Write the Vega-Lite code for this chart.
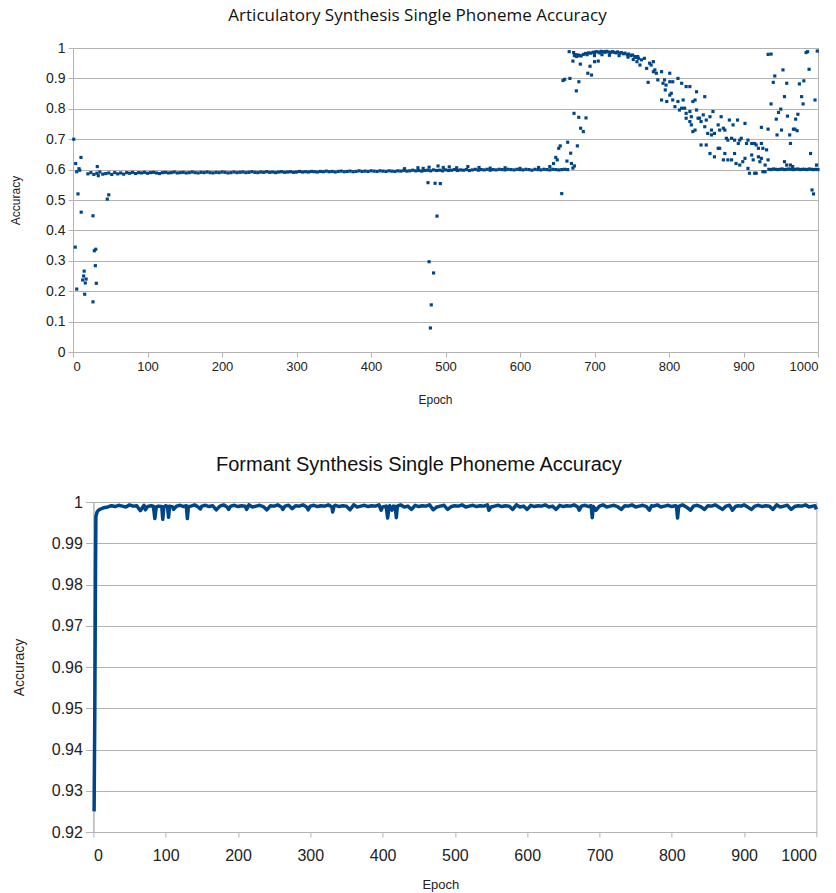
{
  "$schema": "https://vega.github.io/schema/vega-lite/v6.json",
  "padding": {"left": 9, "top": 6, "right": 0, "bottom": 0},
  "background": "white",
  "config": {
    "font": "Liberation Sans",
    "view": {"stroke": "#b3b3b3", "strokeWidth": 1},
    "axis": {"gridColor": "#b3b3b3", "domainColor": "#b3b3b3", "tickColor": "#b3b3b3", "labelColor": "#222222", "titleColor": "#222222", "titleFontWeight": "normal", "labelFont": "Liberation Sans", "titleFont": "Liberation Sans"}
  },
  "datasets": {
    "art": [
      {"e":1,"a":0.70},{"e":3,"a":0.345},{"e":3.6,"a":0.62},{"e":5,"a":0.207},{"e":5,"a":0.593},{"e":6.7,"a":0.52},{"e":8,"a":0.603},{"e":9,"a":0.598},{"e":10.7,"a":0.64},{"e":11,"a":0.46},{"e":13,"a":0.237},{"e":14.3,"a":0.25},{"e":15,"a":0.266},{"e":15.7,"a":0.19},{"e":16.5,"a":0.227},{"e":17.6,"a":0.24},{"e":26.8,"a":0.448},{"e":26.8,"a":0.165},{"e":28.6,"a":0.333},{"e":30.5,"a":0.338},{"e":30,"a":0.284},{"e":31.3,"a":0.226},{"e":32.6,"a":0.61},{"e":34,"a":0.58},{"e":46,"a":0.503},{"e":48,"a":0.517},
      {"e":476.5,"a":0.557},{"e":486,"a":0.555},{"e":493,"a":0.554},{"e":488.6,"a":0.447},{"e":478,"a":0.297},{"e":484,"a":0.26},{"e":480.9,"a":0.155},{"e":479.7,"a":0.079},
      {"e":20,"a":0.586},{"e":24,"a":0.590},{"e":28,"a":0.584},{"e":32,"a":0.588},{"e":36,"a":0.592},{"e":40,"a":0.585},{"e":44,"a":0.587},{"e":48,"a":0.589},{"e":52,"a":0.584},{"e":56,"a":0.590},{"e":60,"a":0.586},{"e":64,"a":0.589},{"e":68,"a":0.585},{"e":72,"a":0.590},{"e":76,"a":0.588},{"e":80,"a":0.591},{"e":84,"a":0.587},{"e":88,"a":0.590},{"e":92,"a":0.589},{"e":96,"a":0.591},{"e":100,"a":0.588},{"e":104,"a":0.590},{"e":108,"a":0.591},{"e":112,"a":0.589},{"e":116,"a":0.587},{"e":120,"a":0.590},{"e":124,"a":0.591},{"e":128,"a":0.589},{"e":132,"a":0.590},{"e":136,"a":0.592},{"e":140,"a":0.589},{"e":144,"a":0.590},{"e":148,"a":0.591},{"e":152,"a":0.589},{"e":156,"a":0.590},{"e":160,"a":0.592},{"e":164,"a":0.590},{"e":168,"a":0.589},{"e":172,"a":0.591},{"e":176,"a":0.590},{"e":180,"a":0.592},{"e":184,"a":0.590},{"e":188,"a":0.589},{"e":192,"a":0.591},{"e":196,"a":0.590},{"e":200,"a":0.592},{"e":204,"a":0.591},{"e":208,"a":0.589},{"e":212,"a":0.590},{"e":216,"a":0.592},{"e":220,"a":0.590},{"e":224,"a":0.591},{"e":228,"a":0.592},{"e":232,"a":0.590},{"e":236,"a":0.591},{"e":240,"a":0.593},{"e":244,"a":0.591},{"e":248,"a":0.590},{"e":252,"a":0.592},{"e":256,"a":0.591},{"e":260,"a":0.593},{"e":264,"a":0.591},{"e":268,"a":0.592},{"e":272,"a":0.590},{"e":276,"a":0.592},{"e":280,"a":0.593},{"e":284,"a":0.591},{"e":288,"a":0.592},{"e":292,"a":0.593},{"e":296,"a":0.591},{"e":300,"a":0.592},{"e":304,"a":0.594},{"e":308,"a":0.592},{"e":312,"a":0.593},{"e":316,"a":0.592},{"e":320,"a":0.594},{"e":324,"a":0.593},{"e":328,"a":0.592},{"e":332,"a":0.594},{"e":336,"a":0.593},{"e":340,"a":0.595},{"e":344,"a":0.593},{"e":348,"a":0.594},{"e":352,"a":0.592},{"e":356,"a":0.594},{"e":360,"a":0.595},{"e":364,"a":0.593},{"e":368,"a":0.594},{"e":372,"a":0.595},{"e":376,"a":0.593},{"e":380,"a":0.594},{"e":384,"a":0.596},{"e":388,"a":0.594},{"e":392,"a":0.595},{"e":396,"a":0.594},{"e":400,"a":0.596},{"e":404,"a":0.595},{"e":408,"a":0.594},{"e":412,"a":0.596},{"e":416,"a":0.595},{"e":420,"a":0.594},{"e":424,"a":0.596},{"e":428,"a":0.595},{"e":432,"a":0.594},{"e":436,"a":0.596},{"e":440,"a":0.595},{"e":444,"a":0.597},{"e":448,"a":0.595},{"e":452,"a":0.596},{"e":456,"a":0.598},{"e":460,"a":0.596},{"e":464,"a":0.597},{"e":468,"a":0.595},{"e":472,"a":0.597},{"e":476,"a":0.598},{"e":480,"a":0.596},{"e":484,"a":0.599},{"e":488,"a":0.597},{"e":492,"a":0.598},{"e":496,"a":0.596},{"e":500,"a":0.599},{"e":504,"a":0.597},{"e":508,"a":0.598},{"e":512,"a":0.600},{"e":516,"a":0.597},{"e":520,"a":0.599},{"e":524,"a":0.598},{"e":528,"a":0.600},{"e":532,"a":0.597},{"e":536,"a":0.599},{"e":540,"a":0.601},{"e":544,"a":0.598},{"e":548,"a":0.600},{"e":552,"a":0.599},{"e":556,"a":0.601},{"e":560,"a":0.598},{"e":564,"a":0.600},{"e":568,"a":0.599},{"e":572,"a":0.601},{"e":576,"a":0.600},{"e":580,"a":0.599},{"e":584,"a":0.601},{"e":588,"a":0.600},{"e":592,"a":0.599},{"e":596,"a":0.601},{"e":600,"a":0.600},{"e":604,"a":0.599},{"e":608,"a":0.601},{"e":612,"a":0.600},{"e":616,"a":0.598},{"e":620,"a":0.601},{"e":624,"a":0.600},{"e":628,"a":0.599},{"e":632,"a":0.601},{"e":636,"a":0.600},{"e":640,"a":0.599},{"e":644,"a":0.601},{"e":648,"a":0.600},{"e":652,"a":0.599},{"e":656,"a":0.600},{"e":660,"a":0.601},{"e":664,"a":0.600},
      {"e":445,"a":0.603},{"e":463,"a":0.606},{"e":470,"a":0.604},{"e":478,"a":0.608},{"e":490,"a":0.612},{"e":497,"a":0.607},{"e":505,"a":0.609},{"e":515,"a":0.606},{"e":530,"a":0.61},{"e":545,"a":0.607},{"e":560,"a":0.605},{"e":580,"a":0.606},{"e":600,"a":0.604},{"e":625,"a":0.607},{"e":640,"a":0.61},{"e":645,"a":0.62},{"e":648,"a":0.64},
      {"e":656,"a":0.521},{"e":650,"a":0.632},{"e":652,"a":0.67},{"e":654,"a":0.678},{"e":664,"a":0.69},{"e":663,"a":0.628},{"e":668,"a":0.654},{"e":669,"a":0.62},{"e":671,"a":0.605},{"e":673,"a":0.612},{"e":677,"a":0.678},{"e":672.5,"a":0.785},{"e":678.8,"a":0.772},{"e":688.6,"a":0.77},{"e":681.4,"a":0.736},{"e":685,"a":0.725},{"e":657.7,"a":0.893},{"e":660,"a":0.897},{"e":667,"a":0.9},{"e":679,"a":0.889},{"e":675.6,"a":0.859},{"e":666,"a":0.988},{"e":671,"a":0.957},{"e":673,"a":0.975},{"e":676,"a":0.972},{"e":680,"a":0.975},{"e":681,"a":0.947},{"e":691,"a":0.917},{"e":696,"a":0.911},{"e":694,"a":0.94},{"e":700,"a":0.955},{"e":705,"a":0.957},
      {"e":672,"a":0.985},{"e":675,"a":0.978},{"e":678,"a":0.977},{"e":682,"a":0.974},{"e":685,"a":0.979},{"e":688,"a":0.982},{"e":690,"a":0.978},{"e":692,"a":0.984},{"e":695,"a":0.983},{"e":698,"a":0.986},{"e":700,"a":0.985},{"e":702,"a":0.988},{"e":705,"a":0.987},{"e":707,"a":0.984},{"e":709,"a":0.989},{"e":712,"a":0.988},{"e":714,"a":0.986},{"e":716,"a":0.989},{"e":719,"a":0.987},{"e":721,"a":0.985},{"e":724,"a":0.988},{"e":726,"a":0.986},{"e":729,"a":0.984},{"e":731,"a":0.987},{"e":734,"a":0.983},{"e":736,"a":0.985},{"e":739,"a":0.981},{"e":741,"a":0.983},{"e":744,"a":0.978},{"e":746,"a":0.980},{"e":749,"a":0.975},{"e":751,"a":0.977},{"e":754,"a":0.972},{"e":756,"a":0.969},{"e":759,"a":0.966},{"e":700,"a":0.975},{"e":710,"a":0.978},{"e":720,"a":0.976},{"e":733,"a":0.975},{"e":745,"a":0.97},{"e":752,"a":0.962},{"e":757,"a":0.955},
      {"e":758,"a":0.972},{"e":763,"a":0.961},{"e":767,"a":0.966},{"e":761,"a":0.944},{"e":770,"a":0.933},{"e":774,"a":0.950},{"e":779,"a":0.955},{"e":776,"a":0.944},{"e":772,"a":0.887},{"e":779,"a":0.922},{"e":781,"a":0.928},{"e":783,"a":0.917},{"e":785,"a":0.895},{"e":790,"a":0.922},{"e":792,"a":0.884},{"e":794,"a":0.895},{"e":796,"a":0.878},{"e":801,"a":0.917},{"e":801,"a":0.889},{"e":805,"a":0.889},{"e":812,"a":0.900},{"e":817,"a":0.884},{"e":823,"a":0.873},{"e":828,"a":0.873},{"e":837,"a":0.856},{"e":848,"a":0.840},
      {"e":790,"a":0.829},{"e":797,"a":0.824},{"e":795,"a":0.862},{"e":801,"a":0.845},{"e":803,"a":0.851},{"e":805,"a":0.829},{"e":808,"a":0.807},{"e":812,"a":0.824},{"e":814,"a":0.796},{"e":819,"a":0.829},{"e":821,"a":0.802},{"e":823,"a":0.785},{"e":828,"a":0.791},{"e":830,"a":0.774},{"e":832,"a":0.824},{"e":835,"a":0.829},{"e":837,"a":0.796},{"e":839,"a":0.769},{"e":841,"a":0.769},{"e":843,"a":0.758},{"e":846,"a":0.780},{"e":848,"a":0.741},{"e":850,"a":0.763},{"e":855,"a":0.774},{"e":859,"a":0.791},{"e":857,"a":0.730},{"e":852,"a":0.719},{"e":857,"a":0.714},{"e":861,"a":0.719},{"e":866,"a":0.747},{"e":868,"a":0.730},{"e":870,"a":0.774},{"e":873,"a":0.736},{"e":875,"a":0.730},{"e":877,"a":0.703},{"e":879,"a":0.697},{"e":881,"a":0.763},{"e":884,"a":0.703},{"e":886,"a":0.747},{"e":888,"a":0.697},{"e":892,"a":0.763},{"e":893,"a":0.686},{"e":895,"a":0.697},{"e":897,"a":0.703},{"e":902,"a":0.752},{"e":904,"a":0.686},{"e":906,"a":0.697},{"e":911,"a":0.686},{"e":915,"a":0.686},{"e":917,"a":0.681},{"e":920,"a":0.670},{"e":924,"a":0.686},{"e":926,"a":0.670},{"e":931,"a":0.665},{"e":933,"a":0.632},
      {"e":843,"a":0.681},{"e":850,"a":0.681},{"e":855,"a":0.653},{"e":861,"a":0.642},{"e":866,"a":0.670},{"e":868,"a":0.670},{"e":873,"a":0.632},{"e":875,"a":0.653},{"e":879,"a":0.632},{"e":884,"a":0.632},{"e":888,"a":0.653},{"e":890,"a":0.620},{"e":895,"a":0.615},{"e":899,"a":0.626},{"e":902,"a":0.637},{"e":906,"a":0.604},{"e":908,"a":0.588},{"e":911,"a":0.648},{"e":913,"a":0.632},{"e":915,"a":0.588},{"e":917,"a":0.588},{"e":920,"a":0.642},{"e":922,"a":0.626},{"e":924,"a":0.637},{"e":926,"a":0.593},{"e":929,"a":0.615},{"e":929,"a":0.593},
      {"e":817,"a":0.802},{"e":823,"a":0.769},{"e":828,"a":0.758},{"e":830,"a":0.747},{"e":832,"a":0.725},{"e":835,"a":0.730},
      {"e":934,"a":0.601},{"e":937,"a":0.600},{"e":940,"a":0.602},{"e":943,"a":0.601},{"e":946,"a":0.600},{"e":949,"a":0.601},{"e":952,"a":0.602},{"e":955,"a":0.600},{"e":958,"a":0.601},{"e":961,"a":0.602},{"e":964,"a":0.601},{"e":967,"a":0.600},{"e":970,"a":0.601},{"e":973,"a":0.602},{"e":976,"a":0.600},{"e":979,"a":0.601},{"e":982,"a":0.601},{"e":985,"a":0.600},{"e":988,"a":0.602},{"e":991,"a":0.601},{"e":994,"a":0.600},{"e":997,"a":0.601},{"e":1000,"a":0.600},
      {"e":933,"a":0.979},{"e":937,"a":0.980},{"e":940,"a":0.887},{"e":942,"a":0.908},{"e":937,"a":0.816},{"e":947,"a":0.788},{"e":950,"a":0.799},{"e":944,"a":0.766},{"e":945,"a":0.714},{"e":951,"a":0.730},{"e":953,"a":0.928},{"e":955,"a":0.840},{"e":958,"a":0.884},{"e":959,"a":0.776},{"e":963,"a":0.686},{"e":962,"a":0.714},{"e":967,"a":0.733},{"e":969,"a":0.733},{"e":970,"a":0.766},{"e":972,"a":0.728},{"e":973,"a":0.782},{"e":975,"a":0.882},{"e":978,"a":0.840},{"e":980,"a":0.816},{"e":981,"a":0.892},{"e":984,"a":0.985},{"e":986,"a":0.988},{"e":988,"a":0.930},{"e":990,"a":0.653},{"e":992,"a":0.533},{"e":994,"a":0.520},{"e":996,"a":0.829},{"e":999,"a":0.990},{"e":998,"a":0.615},{"e":955,"a":0.626},{"e":958,"a":0.615},{"e":963,"a":0.615},{"e":966,"a":0.61},{"e":924,"a":0.739},{"e":933,"a":0.733}
    ],
    "form": [
      {"e":1,"a":0.925},{"e":2,"a":0.95},{"e":3,"a":0.985},{"e":3.5,"a":0.9965},{"e":5,"a":0.9975},{"e":7,"a":0.998},{"e":10,"a":0.9983},{"e":14,"a":0.9986},{"e":20,"a":0.9988},
      {"e":25,"a":0.9991},{"e":30,"a":0.9989},{"e":35,"a":0.9992},{"e":40,"a":0.9990},{"e":45,"a":0.9988},{"e":50,"a":0.9993},{"e":55,"a":0.9990},{"e":60,"a":0.9991},{"e":65,"a":0.9979},{"e":70,"a":0.9992},{"e":72,"a":0.9981},{"e":75,"a":0.9989},{"e":80,"a":0.9991},{"e":83,"a":0.9990},{"e":85,"a":0.9960},{"e":87,"a":0.9988},{"e":90,"a":0.9990},{"e":94.5,"a":0.9989},{"e":96,"a":0.9958},{"e":97.5,"a":0.9988},{"e":100,"a":0.9991},{"e":102.5,"a":0.9989},{"e":104,"a":0.9963},{"e":105.5,"a":0.9990},{"e":110,"a":0.9988},{"e":111,"a":0.9982},{"e":115,"a":0.9990},{"e":120,"a":0.9992},{"e":125,"a":0.9989},{"e":128.5,"a":0.9991},{"e":130,"a":0.9960},{"e":131.5,"a":0.9989},{"e":135,"a":0.9990},{"e":140,"a":0.9993},{"e":145,"a":0.9988},{"e":148,"a":0.9983},{"e":150,"a":0.9990},{"e":155,"a":0.9992},{"e":160,"a":0.9989},{"e":165,"a":0.9991},{"e":170,"a":0.9981},{"e":175,"a":0.9990},{"e":180,"a":0.9993},{"e":185,"a":0.9988},{"e":187,"a":0.9982},{"e":190,"a":0.9990},{"e":195,"a":0.9992},{"e":200,"a":0.9989},{"e":205,"a":0.9991},{"e":210,"a":0.9990},{"e":212,"a":0.9982},{"e":215,"a":0.9993},{"e":220,"a":0.9988},{"e":225,"a":0.9990},{"e":230,"a":0.9992},{"e":235,"a":0.9989},{"e":240,"a":0.9981},{"e":245,"a":0.9991},{"e":250,"a":0.9990},{"e":255,"a":0.9993},{"e":260,"a":0.9988},{"e":262,"a":0.9982},{"e":265,"a":0.9990},{"e":270,"a":0.9992},{"e":275,"a":0.9984},{"e":280,"a":0.9991},{"e":285,"a":0.9990},{"e":290,"a":0.9993},{"e":295,"a":0.9988},{"e":297,"a":0.9981},{"e":300,"a":0.9990},{"e":305,"a":0.9992},{"e":310,"a":0.9989},{"e":315,"a":0.9991},{"e":320,"a":0.9990},{"e":325,"a":0.9993},{"e":330,"a":0.9988},{"e":331,"a":0.9976},{"e":333,"a":0.9990},{"e":335,"a":0.9992},{"e":340,"a":0.9989},{"e":345,"a":0.9991},{"e":350,"a":0.9990},{"e":355,"a":0.9981},{"e":360,"a":0.9993},{"e":365,"a":0.9988},{"e":370,"a":0.9990},{"e":375,"a":0.9992},{"e":380,"a":0.9989},{"e":385,"a":0.9991},{"e":390,"a":0.9990},{"e":395,"a":0.9993},{"e":398,"a":0.9980},{"e":400,"a":0.9988},{"e":405,"a":0.9990},{"e":407,"a":0.9961},{"e":409,"a":0.9989},{"e":410,"a":0.9991},{"e":413,"a":0.9980},{"e":415,"a":0.9990},{"e":417.5,"a":0.9989},{"e":419,"a":0.9962},{"e":420.5,"a":0.9990},{"e":425,"a":0.9993},{"e":430,"a":0.9988},{"e":435,"a":0.9990},{"e":440,"a":0.9982},{"e":445,"a":0.9992},{"e":450,"a":0.9989},{"e":455,"a":0.9991},{"e":460,"a":0.9990},{"e":465,"a":0.9993},{"e":470,"a":0.9981},{"e":475,"a":0.9988},{"e":480,"a":0.9990},{"e":485,"a":0.9992},{"e":490,"a":0.9982},{"e":495,"a":0.9989},{"e":500,"a":0.9991},{"e":505,"a":0.9990},{"e":510,"a":0.9993},{"e":515,"a":0.9988},{"e":520,"a":0.9990},{"e":525,"a":0.9992},{"e":530,"a":0.9989},{"e":535,"a":0.9991},{"e":540,"a":0.9990},{"e":545,"a":0.9993},{"e":547,"a":0.9980},{"e":550,"a":0.9988},{"e":555,"a":0.9990},{"e":560,"a":0.9992},{"e":565,"a":0.9989},{"e":570,"a":0.9991},{"e":575,"a":0.9990},{"e":580,"a":0.9982},{"e":585,"a":0.9993},{"e":590,"a":0.9988},{"e":595,"a":0.9990},{"e":600,"a":0.9982},{"e":605,"a":0.9992},{"e":610,"a":0.9989},{"e":615,"a":0.9991},{"e":620,"a":0.9990},{"e":625,"a":0.9993},{"e":630,"a":0.9988},{"e":635,"a":0.9990},{"e":640,"a":0.9982},{"e":645,"a":0.9992},{"e":650,"a":0.9989},{"e":655,"a":0.9991},{"e":660,"a":0.9990},{"e":665,"a":0.9993},{"e":670,"a":0.9988},{"e":672,"a":0.9980},{"e":675,"a":0.9990},{"e":680,"a":0.9992},{"e":685,"a":0.9989},{"e":688.5,"a":0.9991},{"e":690,"a":0.9962},{"e":691.5,"a":0.9989},{"e":695,"a":0.9980},{"e":700,"a":0.9990},{"e":705,"a":0.9993},{"e":710,"a":0.9988},{"e":715,"a":0.9990},{"e":720,"a":0.9992},{"e":725,"a":0.9989},{"e":730,"a":0.9982},{"e":735,"a":0.9991},{"e":740,"a":0.9990},{"e":745,"a":0.9993},{"e":750,"a":0.9988},{"e":755,"a":0.9990},{"e":760,"a":0.9992},{"e":765,"a":0.9989},{"e":769,"a":0.9980},{"e":772,"a":0.9991},{"e":775,"a":0.9990},{"e":780,"a":0.9993},{"e":785,"a":0.9988},{"e":790,"a":0.9990},{"e":795,"a":0.9992},{"e":800,"a":0.9989},{"e":805,"a":0.9991},{"e":806.5,"a":0.9990},{"e":808,"a":0.9961},{"e":809.5,"a":0.9989},{"e":812,"a":0.9991},{"e":815,"a":0.9993},{"e":820,"a":0.9988},{"e":826,"a":0.9980},{"e":830,"a":0.9990},{"e":835,"a":0.9992},{"e":840,"a":0.9989},{"e":845,"a":0.9982},{"e":850,"a":0.9991},{"e":855,"a":0.9990},{"e":860,"a":0.9993},{"e":865,"a":0.9988},{"e":870,"a":0.9982},{"e":875,"a":0.9990},{"e":880,"a":0.9992},{"e":884,"a":0.9980},{"e":888,"a":0.9989},{"e":892,"a":0.9991},{"e":896,"a":0.9990},{"e":900,"a":0.9993},{"e":905,"a":0.9988},{"e":910,"a":0.9982},{"e":915,"a":0.9990},{"e":920,"a":0.9992},{"e":925,"a":0.9989},{"e":930,"a":0.9991},{"e":935,"a":0.9990},{"e":940,"a":0.9982},{"e":945,"a":0.9993},{"e":950,"a":0.9988},{"e":955,"a":0.9990},{"e":960,"a":0.9992},{"e":965,"a":0.9982},{"e":970,"a":0.9989},{"e":975,"a":0.9991},{"e":980,"a":0.9990},{"e":985,"a":0.9993},{"e":990,"a":0.9988},{"e":995,"a":0.9990},{"e":998,"a":0.9991},{"e":1000,"a":0.9982}
    ],
    "none": [{"k": 0}]
  },
  "center": true,
  "spacing": 48,
  "vconcat": [
    {
      "spacing": 0,
      "hconcat": [
        {
          "width": 745,
          "height": 304,
          "title": {"text": "Articulatory Synthesis Single Phoneme Accuracy", "font": "Open Sans", "fontSize": 17, "fontWeight": "normal", "color": "#111111", "frame": "group", "anchor": "middle", "dx": -28, "offset": 16},
          "data": {"name": "art"},
          "mark": {"type": "point", "shape": "square", "filled": true, "size": 10, "opacity": 1, "color": "#004586"},
          "encoding": {
            "x": {"field": "e", "type": "quantitative", "scale": {"domain": [0, 1000], "nice": false}, "axis": {"title": "Epoch", "values": [0,100,200,300,400,500,600,700,800,900,1000], "format": "d", "grid": false, "tickSize": 5, "labelPadding": 3, "labelFontSize": 13, "titleFontSize": 12, "titlePadding": 21, "titleX": 362}},
            "y": {"field": "a", "type": "quantitative", "scale": {"domain": [0, 1], "nice": false}, "axis": {"title": "Accuracy", "values": [0,0.1,0.2,0.3,0.4,0.5,0.6,0.7,0.8,0.9,1], "format": "~g", "tickSize": 5, "labelPadding": 3, "labelFontSize": 14, "titleFontSize": 12, "titlePadding": 23}}
          }
        },
        {
          "width": 18,
          "height": 304,
          "view": {"stroke": null},
          "data": {"name": "none"},
          "mark": {"type": "point", "opacity": 0},
          "encoding": {}
        }
      ]
    },
    {
      "width": 723,
      "height": 330,
      "title": {"text": "Formant Synthesis Single Phoneme Accuracy", "font": "Liberation Sans", "fontSize": 20, "fontWeight": "normal", "color": "#111111", "frame": "group", "anchor": "middle", "dx": -36, "offset": 19},
      "data": {"name": "form"},
      "mark": {"type": "line", "color": "#004586", "strokeWidth": 3.5, "strokeJoin": "round"},
      "encoding": {
        "x": {"field": "e", "type": "quantitative", "scale": {"domain": [0, 1000], "nice": false}, "axis": {"title": "Epoch", "values": [0,100,200,300,400,500,600,700,800,900,1000], "format": "d", "grid": false, "tickSize": 5, "labelPadding": 10, "labelFontSize": 16, "titleFontSize": 13, "titlePadding": 15, "titleX": 347}},
        "y": {"field": "a", "type": "quantitative", "scale": {"domain": [0.92, 1], "nice": false, "zero": false}, "axis": {"title": "Accuracy", "values": [0.92,0.93,0.94,0.95,0.96,0.97,0.98,0.99,1], "format": "~g", "tickSize": 8, "labelPadding": 3, "labelFontSize": 16, "titleFontSize": 14, "titlePadding": 25}}
      }
    }
  ]
}
